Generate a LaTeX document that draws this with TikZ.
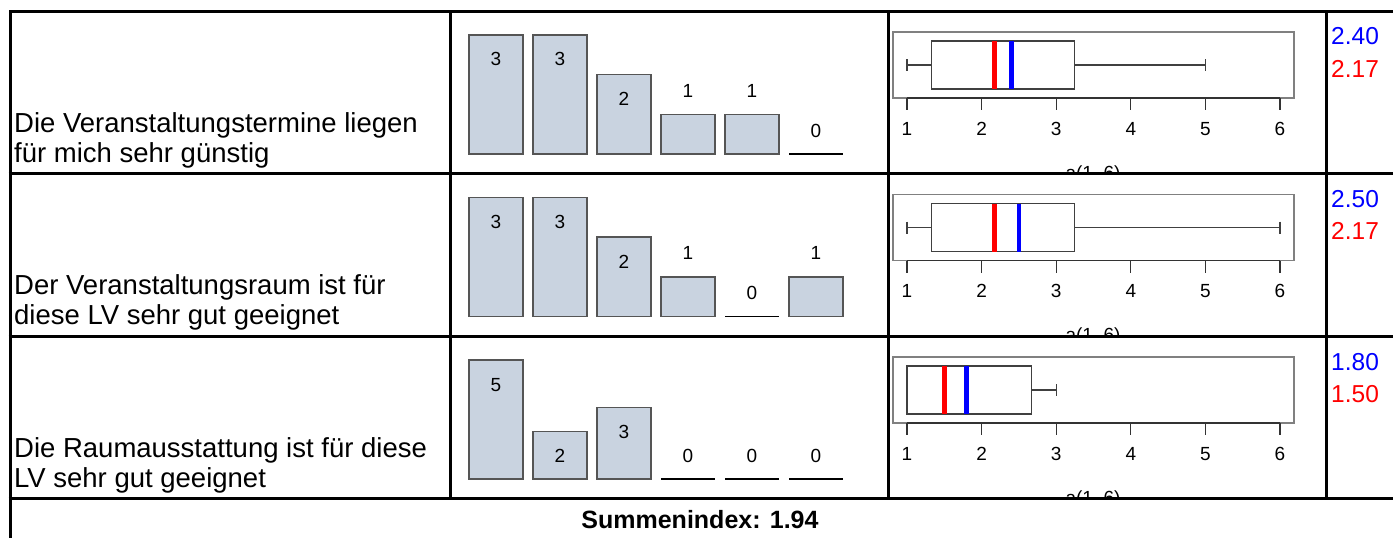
\documentclass[tikz,border=0pt]{standalone}
\usepackage{fontspec}
\setmainfont{Liberation Sans}
\definecolor{barfill}{HTML}{C9D3E0}
\definecolor{bardraw}{HTML}{555555}
\definecolor{framegray}{HTML}{808080}
\begin{document}
\begin{tikzpicture}
  [x=1pt,y=-1pt,
   grid/.style={line width=3pt},
   bar/.style={draw=bardraw,fill=barfill,line width=1.4pt},
   zeroline/.style={line width=1.4pt},
   count/.style={font=\fontsize{19}{19}\selectfont,anchor=base,inner sep=0pt},
   rowtext/.style={font=\fontsize{27.5}{30}\selectfont,anchor=base west,inner sep=0pt},
   tick/.style={font=\fontsize{19}{19}\selectfont,anchor=base,inner sep=0pt},
   boxline/.style={draw=black!75,line width=1.1pt},
   meanval/.style={font=\fontsize{24.5}{24.5}\selectfont,anchor=base west,inner sep=0pt}]
  \useasboundingbox (0,0) rectangle (1393,538);
  % row texts
  \node[rowtext] (t1a) at (14,132) {Die Veranstaltungstermine liegen};
  \node[rowtext] (t1b) at (14,162) {für mich sehr günstig};
  \node[rowtext] (t2a) at (14,294.5) {Der Veranstaltungsraum ist für};
  \node[rowtext] (t2b) at (14,324.5) {diese LV sehr gut geeignet};
  \node[rowtext] (t3a) at (14,457) {Die Raumausstattung ist für diese};
  \node[rowtext] (t3b) at (14,487) {LV sehr gut geeignet};
  % bar charts
  \foreach \row/\top/\unit/\counts in {1/11/39.67/{3,3,2,1,1,0},
      2/173.5/39.67/{3,3,2,1,0,1}, 3/336/23.8/{5,2,3,0,0,0}} {
    \foreach \c [count=\k from 0] in \counts {
      \pgfmathsetmacro\h{\c*\unit}
      \pgfmathsetmacro\xl{469+64*\k}
      \pgfmathsetmacro\base{\top+143}
      \ifnum\c=0
        \draw[zeroline] (\xl,\base) -- ++(54,0);
        \node[count] (n-\row-\k) at (\xl+27,\base-17) {0};
      \else
        \draw[bar] (\xl,\base) rectangle ++(54,-\h);
        \ifdim\h pt>42pt
          \node[count] (n-\row-\k) at (\xl+27,\base-\h+31) {\c};
        \else
          \node[count] (n-\row-\k) at (\xl+27,\base-\h-17) {\c};
        \fi
      \fi
    }
  }
  % boxplots
  \foreach \row/\top/\qa/\qb/\hi/\med/\mean in {1/11/1.33/3.25/5/2.17/2.40,
      2/173.5/1.33/3.25/6/2.17/2.50, 3/336/1/2.67/3/1.50/1.80} {
    \begin{scope}
      \clip (890,\top+2) rectangle (1325,\top+161);
      \draw[framegray,line width=1.3pt] (893,\top+21) rectangle (1294,\top+87);
      \draw[black!80,line width=1.3pt] (907,\top+87) -- (1280,\top+87);
      \foreach \v in {1,...,6} {
        \draw[black!80,line width=1.1pt] ({907+(\v-1)*74.6},\top+87) -- ++(0,12);
        \node[tick] (k-\row-\v) at ({907+(\v-1)*74.6},\top+124) {\v};
      }
      \node[tick] (ax-\row) at (1093,\top+168) {a(1..6)};
      \draw[boxline] (907,\top+54) -- ({907+(\qa-1)*74.6},\top+54);
      \draw[boxline] ({907+(\qb-1)*74.6},\top+54) -- ({907+(\hi-1)*74.6},\top+54);
      \draw[boxline,line width=1.6pt] (907,\top+48) -- (907,\top+60);
      \draw[boxline] ({907+(\hi-1)*74.6},\top+48) -- ++(0,12);
      \draw[boxline,fill=white] ({907+(\qa-1)*74.6},\top+30) rectangle ({907+(\qb-1)*74.6},\top+78);
      \draw[red,line width=4.5pt] ({907+(\med-1)*74.6},\top+30) -- ++(0,48);
      \draw[blue,line width=4.5pt] ({907+(\mean-1)*74.6},\top+30) -- ++(0,48);
    \end{scope}
    \node[meanval,blue] (m-\row) at (1331,\top+34) {\mean};
    \node[meanval,red] (d-\row) at (1331,\top+66) {\med};
  }
  % table lines
  \draw[grid] (10,538) -- (10,11) -- (1393,11);
  \foreach \y in {173.5,336,498}
    \draw[grid] (8.5,\y) -- (1393,\y);
  \foreach \x in {450,888,1326.5}
    \draw[grid] (\x,11) -- (\x,498);
  \node[font=\bfseries\fontsize{25}{25}\selectfont,anchor=base] (sum) at (700,528) {Summenindex: 1.94};
\end{tikzpicture}
\end{document}
